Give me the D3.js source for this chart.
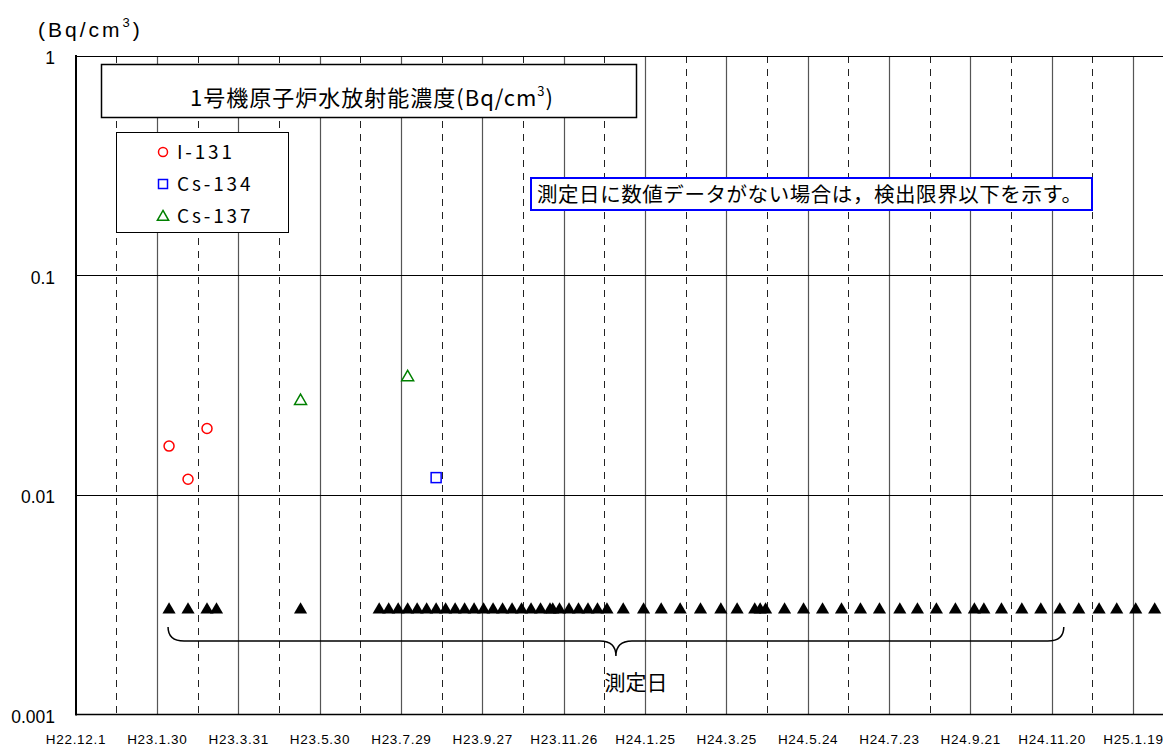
<!DOCTYPE html>
<html><head><meta charset="utf-8">
<script src="https://cdn.jsdelivr.net/npm/d3@7"></script>
<style>body{margin:0;background:#fff} svg{display:block}</style>
</head><body><svg id="chart" width="1163" height="749"></svg>
<script>
// ---- data ----
const xTickDates = ["2010-12-01","2011-01-30","2011-03-31","2011-05-30","2011-07-29","2011-09-27","2011-11-26",
  "2012-01-25","2012-03-25","2012-05-24","2012-07-23","2012-09-21","2012-11-20","2013-01-19"];
const xTickLabels = ["H22.12.1","H23.1.30","H23.3.31","H23.5.30","H23.7.29","H23.9.27","H23.11.26",
  "H24.1.25","H24.3.25","H24.5.24","H24.7.23","H24.9.21","H24.11.20","H25.1.19"];
const yTickValues = [0.001, 0.01, 0.1, 1];
const yTickLabels = ["0.001", "0.01", "0.1", "1"];
const seriesNames = ["I-131", "Cs-134", "Cs-137"];
const i131Dates = ["2011-02-08","2011-02-22","2011-03-08"];
const i131Values = [0.0167, 0.0118, 0.0201];
const cs134Dates = ["2011-08-24"];
const cs134Values = [0.0120];
const cs137Dates = ["2011-05-16","2011-08-03"];
const cs137Values = [0.0268, 0.0344];
const measurementDates = [
  "2011-02-08","2011-02-22","2011-03-08","2011-03-15","2011-05-16",
  "2011-07-13","2011-07-20","2011-07-27","2011-08-03","2011-08-10","2011-08-17","2011-08-24","2011-08-31",
  "2011-09-07","2011-09-14","2011-09-21","2011-09-28","2011-10-05","2011-10-12","2011-10-19","2011-10-26",
  "2011-11-02","2011-11-09","2011-11-16","2011-11-18","2011-11-23","2011-11-30","2011-12-07","2011-12-14",
  "2011-12-21","2011-12-28",
  "2012-01-09","2012-01-24","2012-02-06","2012-02-20","2012-03-06","2012-03-21","2012-04-02","2012-04-15",
  "2012-04-19","2012-04-23","2012-05-07","2012-05-21","2012-06-04","2012-06-18","2012-07-02","2012-07-16",
  "2012-07-31","2012-08-13","2012-08-27","2012-09-10","2012-09-24","2012-10-01","2012-10-14","2012-10-29",
  "2012-11-12","2012-11-26","2012-12-10","2012-12-25","2013-01-07","2013-01-21","2013-02-04"];
const measurementMarkerValue = 0.003;
const braceEndDate = "2012-11-26";
const titleText = "1号機原子炉水放射能濃度(Bq/cm";
const noteText = "測定日に数値データがない場合は，検出限界以下を示す。";
const braceLabel = "測定日";

// ---- chart ----
(function () {
const parse = d3.utcParse("%Y-%m-%d");
const svg = d3.select("#chart");
svg.append("rect").attr("width",1163).attr("height",749).attr("fill","#fff");

const plotLeft = 76, plotTop = 56, plotBottom = 714.5;
const x = d3.scaleUtc().domain([parse(xTickDates[0]), parse(xTickDates[xTickDates.length-1])]).range([75.5, 1133]);
const y = d3.scaleLog().domain([0.001, 1]).range([plotBottom, plotTop]);

const ticks = xTickDates.map(parse);
const mids = ticks.map(t => d3.utcDay.offset(t, 30));

const grid = svg.append("g");
grid.selectAll("line.mid").data(mids).join("line")
  .attr("x1", d => Math.round(x(d)) + 0.5).attr("x2", d => Math.round(x(d)) + 0.5)
  .attr("y1", plotTop).attr("y2", plotBottom)
  .attr("stroke", "#222").attr("stroke-width", 1).attr("stroke-dasharray", "7,6");
grid.selectAll("line.maj").data(ticks.slice(1)).join("line")
  .attr("x1", d => Math.round(x(d)) + 0.5).attr("x2", d => Math.round(x(d)) + 0.5)
  .attr("y1", plotTop).attr("y2", plotBottom)
  .attr("stroke", "#555").attr("stroke-width", 1.2);
grid.selectAll("line.h").data(yTickValues.slice(1)).join("line")
  .attr("x1", plotLeft).attr("x2", 1163)
  .attr("y1", d => Math.round(y(d)) + 0.5).attr("y2", d => Math.round(y(d)) + 0.5)
  .attr("stroke", "#000").attr("stroke-width", 1);

svg.append("line").attr("x1", plotLeft).attr("x2", plotLeft).attr("y1", plotTop - 1).attr("y2", plotBottom + 1)
  .attr("stroke", "#000").attr("stroke-width", 2);
svg.append("line").attr("x1", plotLeft).attr("x2", 1163).attr("y1", plotBottom).attr("y2", plotBottom)
  .attr("stroke", "#000").attr("stroke-width", 1.5);

const yAxis = d3.axisLeft(y).tickValues(yTickValues).tickSize(0).tickPadding(0)
  .tickFormat((d, i) => yTickLabels[i]);
const gy = svg.append("g").attr("transform", `translate(55,0)`).call(yAxis);
gy.select(".domain").remove();
gy.selectAll("text").attr("font-family", "Liberation Sans, Arial, sans-serif")
  .attr("font-size", 17.5).attr("fill", "#000").attr("dy", "0.45em").attr("x", 0);

const xAxis = d3.axisBottom(x).tickValues(ticks).tickSize(0).tickPadding(0)
  .tickFormat((d, i) => xTickLabels[i]);
const gx = svg.append("g").attr("transform", `translate(0,734)`).call(xAxis);
gx.select(".domain").remove();
gx.selectAll("text").attr("font-family", "Liberation Sans, Arial, sans-serif")
  .attr("font-size", 13.5).attr("letter-spacing", "0.7px").attr("fill", "#000").attr("dy", "0.71em");

const unit = svg.append("text").attr("x", 38).attr("y", 37)
  .attr("font-family", "Liberation Sans, Arial, sans-serif").attr("font-size", 21).attr("letter-spacing", "3px");
unit.append("tspan").text("(Bq/cm");
unit.append("tspan").attr("dy", -10).attr("font-size", 13).text("3");
unit.append("tspan").attr("dy", 10).text(")");

svg.append("rect").attr("x", 101.5).attr("y", 64.5).attr("width", 535).attr("height", 53)
  .attr("fill", "#fff").attr("stroke", "#000").attr("stroke-width", 1.5);
const title = svg.append("text").attr("x", 372).attr("y", 106).attr("text-anchor", "middle")
  .attr("font-family", "Noto Sans CJK JP, sans-serif").attr("font-size", 22).attr("letter-spacing", "1px");
title.append("tspan").text(titleText);
title.append("tspan").attr("dy", -10).attr("font-size", 13).text("3");
title.append("tspan").attr("dy", 10).text(")");

svg.append("rect").attr("x", 116.5).attr("y", 132.5).attr("width", 172).attr("height", 100)
  .attr("fill", "#fff").attr("stroke", "#000").attr("stroke-width", 1);
const legendY = [152, 184, 216];
const lg = svg.append("g");
lg.append("circle").attr("cx", 163).attr("cy", legendY[0]).attr("r", 4.5)
  .attr("fill", "none").attr("stroke", "#f00").attr("stroke-width", 1.5);
lg.append("rect").attr("x", 158.5).attr("y", legendY[1] - 4.5).attr("width", 9).attr("height", 9)
  .attr("fill", "none").attr("stroke", "#00f").attr("stroke-width", 1.5);
lg.append("path").attr("d", d3.symbol(d3.symbolTriangle, 55)())
  .attr("transform", `translate(163,${legendY[2] + 1})`)
  .attr("fill", "none").attr("stroke", "#008000").attr("stroke-width", 1.5);
lg.selectAll("text").data(seriesNames).join("text")
  .attr("x", 177).attr("y", (d, i) => legendY[i] + 7)
  .attr("font-family", "Noto Sans CJK JP, sans-serif").attr("font-size", 19).attr("letter-spacing", "2.8px")
  .text(d => d);

svg.append("rect").attr("x", 531).attr("y", 178).attr("width", 561).attr("height", 32)
  .attr("fill", "#fff").attr("stroke", "#00f").attr("stroke-width", 2);
svg.append("text").attr("x", 537).attr("y", 202)
  .attr("font-family", "Noto Sans CJK JP, sans-serif").attr("font-size", 20.5).attr("textLength", 545)
  .text(noteText);

svg.append("g").selectAll("path").data(measurementDates).join("path")
  .attr("d", d3.symbol(d3.symbolTriangle, 75)())
  .attr("transform", d => `translate(${x(parse(d))},${y(measurementMarkerValue)})`)
  .attr("fill", "#000");

svg.append("g").selectAll("circle").data(i131Dates.map((d, i) => [d, i131Values[i]])).join("circle")
  .attr("cx", d => x(parse(d[0]))).attr("cy", d => y(d[1])).attr("r", 5)
  .attr("fill", "none").attr("stroke", "#f00").attr("stroke-width", 1.5);
svg.append("g").selectAll("rect").data(cs134Dates.map((d, i) => [d, cs134Values[i]])).join("rect")
  .attr("x", d => x(parse(d[0])) - 5).attr("y", d => y(d[1]) - 5).attr("width", 10).attr("height", 10)
  .attr("fill", "none").attr("stroke", "#00f").attr("stroke-width", 1.5);
svg.append("g").selectAll("path").data(cs137Dates.map((d, i) => [d, cs137Values[i]])).join("path")
  .attr("d", d3.symbol(d3.symbolTriangle, 62)())
  .attr("transform", d => `translate(${x(parse(d[0]))},${y(d[1])})`)
  .attr("fill", "none").attr("stroke", "#008000").attr("stroke-width", 1.5);

const bx0 = x(parse(measurementDates[0])) - 1, bx1 = x(parse(braceEndDate)) + 4;
const bm = (bx0 + bx1) / 2, by0 = 627, by1 = 641, by2 = 656;
const bp = d3.path();
bp.moveTo(bx0, by0);
bp.quadraticCurveTo(bx0, by1, bx0 + 16, by1);
bp.lineTo(bm - 16, by1);
bp.quadraticCurveTo(bm, by1, bm, by2);
bp.quadraticCurveTo(bm, by1, bm + 16, by1);
bp.lineTo(bx1 - 16, by1);
bp.quadraticCurveTo(bx1, by1, bx1, by0);
svg.append("path").attr("d", bp.toString()).attr("fill", "none").attr("stroke", "#000").attr("stroke-width", 1.5);
svg.append("text").attr("x", 636).attr("y", 690).attr("text-anchor", "middle")
  .attr("font-family", "Noto Sans CJK JP, sans-serif").attr("font-size", 21).text(braceLabel);
})();
</script></body></html>
